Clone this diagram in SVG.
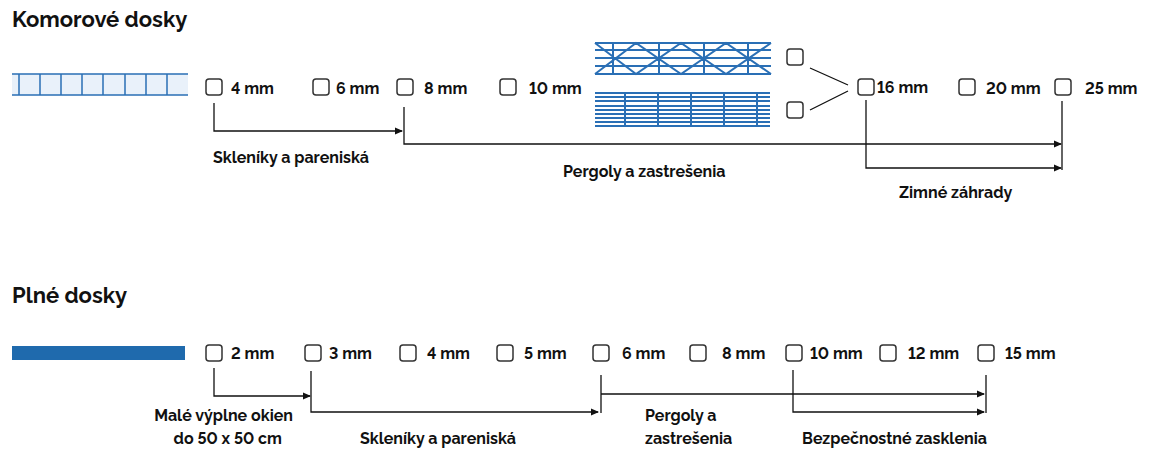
<svg xmlns="http://www.w3.org/2000/svg" width="1152" height="468" viewBox="0 0 1152 468">
<style>
text{font-family:Raleway,Lato,"Open Sans",sans-serif;font-weight:bold;fill:#111;font-variant-numeric:lining-nums;font-feature-settings:"lnum" 1}
.h{font-size:22px}
.t{font-size:16px}
.cb{fill:#fff;stroke:#333;stroke-width:1.5}
.c{fill:none;stroke:#111;stroke-width:1.3}
.b{stroke:#2a6fb5;stroke-width:2;fill:none}
.b1{stroke:#2a6fb5;stroke-width:1.5;fill:none}
</style>
<defs><marker id="a" markerWidth="8" markerHeight="8" refX="7" refY="4" orient="auto" markerUnits="userSpaceOnUse"><path d="M0,0.5 L8,4 L0,7.5z" fill="#111"/></marker></defs>
<rect width="1152" height="468" fill="#fff"/>
<text class="h" x="12" y="27">Komorové dosky</text>
<text class="h" x="12" y="303">Plné dosky</text>
<g id="panel1"><rect x="12" y="74" width="176" height="21" fill="#e9f1fa"/>
<path class="b1" d="M12,74H188M12,95H188M19,74V95M40,74V95M61,74V95M82,74V95M103,74V95M125,74V95M146,74V95M167,74V95"/></g>
<g id="panel2"><path class="b" d="M595,43H771M595,50H771M595,58H771M595,66H771M595,74H771M613,43V74M659,43V74M704,43V74M748,43V74M595,43L636,74L681,43L726,74L771,43M595,74L636,43L681,74L726,43L771,74"/></g>
<g id="panel3"><path class="b" d="M595,93H770M595,97H770M595,101H770M595,106H770M595,110H770M595,114H770M595,118H770M595,122H770M595,126H770M625,93V126M658,93V126M691,93V126M724,93V126M757,93V126"/></g>
<g id="solid"><rect x="12" y="346" width="173" height="14" fill="#1f6aad"/></g>
<g id="top-boxes">
<rect class="cb" x="206" y="79" width="16" height="16" rx="3"/><text class="t" x="231" y="94">4 mm</text>
<rect class="cb" x="313" y="79" width="16" height="16" rx="3"/><text class="t" x="336" y="94">6 mm</text>
<rect class="cb" x="397" y="79" width="16" height="16" rx="3"/><text class="t" x="424" y="94">8 mm</text>
<rect class="cb" x="500" y="79" width="16" height="16" rx="3"/><text class="t" x="529" y="94">10 mm</text>
<rect class="cb" x="787" y="49" width="16" height="16" rx="3"/>
<rect class="cb" x="787" y="102" width="16" height="16" rx="3"/>
<rect class="cb" x="858" y="79" width="16" height="16" rx="3"/><text class="t" x="877" y="93">16 mm</text>
<rect class="cb" x="959" y="79" width="16" height="16" rx="3"/><text class="t" x="986" y="94">20 mm</text>
<rect class="cb" x="1055" y="79" width="16" height="16" rx="3"/><text class="t" x="1085" y="94">25 mm</text>
</g>
<g id="bottom-boxes">
<rect class="cb" x="206" y="345" width="16" height="16" rx="3"/><text class="t" x="231" y="359">2 mm</text>
<rect class="cb" x="305" y="345" width="16" height="16" rx="3"/><text class="t" x="329" y="359">3 mm</text>
<rect class="cb" x="400" y="345" width="16" height="16" rx="3"/><text class="t" x="427" y="359">4 mm</text>
<rect class="cb" x="497" y="345" width="16" height="16" rx="3"/><text class="t" x="524" y="359">5 mm</text>
<rect class="cb" x="593" y="345" width="16" height="16" rx="3"/><text class="t" x="622" y="359">6 mm</text>
<rect class="cb" x="690" y="345" width="16" height="16" rx="3"/><text class="t" x="722" y="359">8 mm</text>
<rect class="cb" x="786" y="345" width="16" height="16" rx="3"/><text class="t" x="810" y="359">10 mm</text>
<rect class="cb" x="880" y="345" width="16" height="16" rx="3"/><text class="t" x="908" y="359">12 mm</text>
<rect class="cb" x="978" y="345" width="16" height="16" rx="3"/><text class="t" x="1005" y="359">15 mm</text>
</g>
<g id="connectors">
<path class="c" d="M810,68L848,85M810,110L848,91"/>
<path class="c" d="M214,103V131H402" marker-end="url(#a)"/>
<path class="c" d="M404,107V144H1061" marker-end="url(#a)"/>
<path class="c" d="M866,100V168H1061" marker-end="url(#a)"/>
<path class="c" d="M1062,101V170"/>
<path class="c" d="M214,368V396H310" marker-end="url(#a)"/>
<path class="c" d="M311,371V412H598" marker-end="url(#a)"/>
<path class="c" d="M601,375V413M601,394H984" marker-end="url(#a)"/>
<path class="c" d="M793,370V412H984" marker-end="url(#a)"/>
<path class="c" d="M986,375V413"/>
</g>
<g id="labels">
<text class="t" x="213" y="163">Skleníky a pareniská</text>
<text class="t" x="563" y="177">Pergoly a zastrešenia</text>
<text class="t" x="899" y="198">Zimné záhrady</text>
<text class="t" x="293" y="421" text-anchor="end">Malé výplne okien</text>
<text class="t" x="282" y="444" text-anchor="end">do 50 x 50 cm</text>
<text class="t" x="360" y="444">Skleníky a pareniská</text>
<text class="t" x="645" y="421">Pergoly a</text>
<text class="t" x="645" y="444">zastrešenia</text>
<text class="t" x="802" y="444">Bezpečnostné zasklenia</text>
</g>
</svg>
